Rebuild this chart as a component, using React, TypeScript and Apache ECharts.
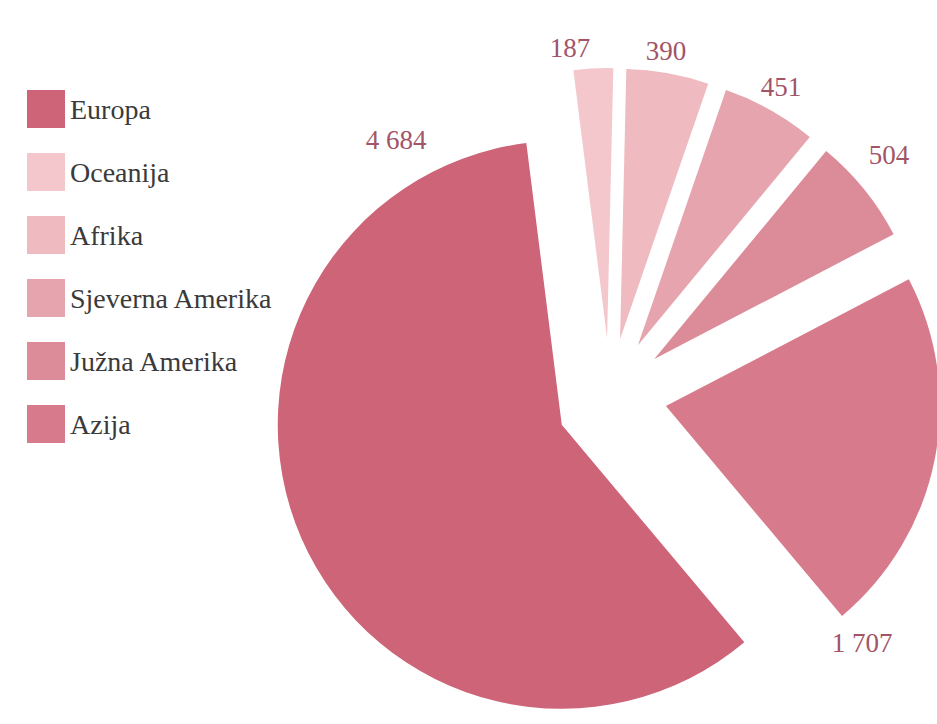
import React, { useEffect, useRef } from "react";
import * as echarts from "echarts";

const categories = ["Europa", "Oceanija", "Afrika", "Sjeverna Amerika", "Južna Amerika", "Azija"];
const values = [4684, 187, 390, 451, 504, 1707];
const colors = ["#cd6478", "#f3c7cb", "#efbbc0", "#e6a5ae", "#dc8b99", "#d77a8b"];

// layout only: outer radius / centre per slice and label anchor positions
const sliceRadius = [284, 270, 270, 270, 270, 274];
const sliceCenter = [
  [614, 402],
  [610, 395],
  [610, 395],
  [610, 395],
  [610, 395],
  [610, 395],
];
const labelPos = [
  [396, 140],
  [570, 48],
  [666, 51],
  [781, 87],
  [889, 155],
  [862, 643],
];

const fmt = (v: number) => String(v).replace(/\B(?=(\d{3})+(?!\d))/g, " ");

export default function App() {
  const ref = useRef<HTMLDivElement>(null);
  useEffect(() => {
    if (!ref.current) return;
    const chart = echarts.init(ref.current, undefined, { renderer: "svg" });
    const series = categories.map((_, k) => ({
      type: "pie",
      name: "s" + k,
      center: sliceCenter[k],
      radius: [0, sliceRadius[k]],
      startAngle: -50,
      clockwise: true,
      avoidLabelOverlap: false,
      selectedMode: "multiple",
      selectedOffset: 57,
      label: { show: false },
      labelLine: { show: false },
      emphasis: { disabled: true },
      data: categories.map((name, i) => ({
        name,
        value: values[i],
        selected: true,
        itemStyle: { color: i === k ? colors[i] : "rgba(0,0,0,0)" },
      })),
    }));
    chart.setOption({
      animation: false,
      backgroundColor: "#ffffff",
      legend: {
        orient: "vertical",
        left: 22,
        top: 85,
        itemWidth: 38,
        itemHeight: 38,
        itemGap: 25,
        icon: "rect",
        data: categories.map((name, i) => ({ name, itemStyle: { color: colors[i] } })),
        textStyle: {
          fontFamily: "Liberation Serif",
          fontSize: 28,
          color: "#3a3a3a",
        },
      },
      graphic: values.map((v, i) => ({
        type: "text",
        x: labelPos[i][0],
        y: labelPos[i][1],
        style: {
          text: fmt(v),
          fontFamily: "Liberation Serif",
          fontSize: 27,
          fill: "#a25468",
          align: "center",
          verticalAlign: "middle",
        },
      })),
      series,
    });
    return () => chart.dispose();
  }, []);
  return (
    <div
      ref={ref}
      style={{ position: "fixed", left: 0, top: 0, width: 937, height: 724 }}
    />
  );
}
